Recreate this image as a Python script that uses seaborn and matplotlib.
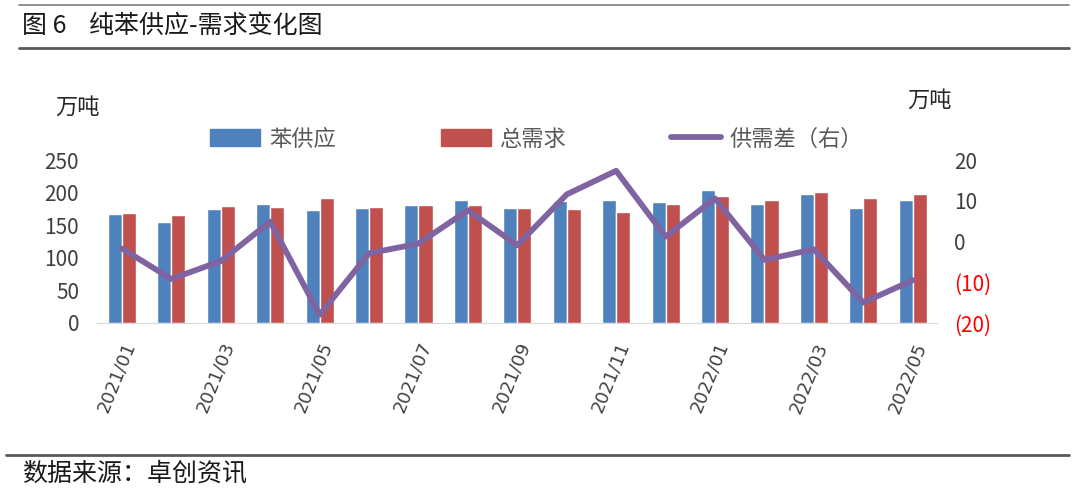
import numpy as np
import pandas as pd
import matplotlib
matplotlib.use('Agg')
import matplotlib.pyplot as plt
import seaborn as sns
from matplotlib.lines import Line2D
from matplotlib.patches import Patch

# ===========================================
# Dados
# ===========================================
meses = ['2021/01', '2021/02', '2021/03', '2021/04', '2021/05', '2021/06',
         '2021/07', '2021/08', '2021/09', '2021/10', '2021/11', '2021/12',
         '2022/01', '2022/02', '2022/03', '2022/04', '2022/05']
oferta = [166.8, 155.5, 174.5, 182.2, 174.0, 176.0, 180.7, 188.4, 176.0,
          187.4, 188.4, 185.3, 204.8, 183.3, 198.7, 177.1, 188.4]
demanda = [168.9, 165.3, 179.7, 177.6, 192.0, 178.6, 181.7, 180.7, 176.6,
           175.6, 171.0, 183.3, 195.0, 188.4, 200.7, 192.5, 198.7]
diferenca = [-1.7, -9.2, -4.8, 4.9, -18.0, -2.9, -0.5, 7.7, -0.9,
             11.6, 17.4, 1.2, 10.6, -4.5, -1.9, -15.0, -9.5]

rotulos_direita = ['20', '10', '0', '(10)', '(20)']
valores_direita = [20, 10, 0, -10, -20]

cor_azul = '#4F81BD'
cor_vermelho = '#C0504D'
cor_roxo = '#8064A2'

df = pd.DataFrame({
    'mes': meses * 2,
    'valor': oferta + demanda,
    'serie': ['苯供应'] * len(meses) + ['总需求'] * len(meses),
})

# ===========================================
# Figura
# ===========================================
sns.set_style('white')
plt.rcParams['font.family'] = ['Noto Sans CJK SC', 'DejaVu Sans']

fig = plt.figure(figsize=(10.8, 4.93), dpi=100)
ax = fig.add_axes([0.09, 0.345, 0.778, 0.33])

sns.barplot(data=df, x='mes', y='valor', hue='serie', order=meses,
            palette=[cor_azul, cor_vermelho], width=0.57, gap=0,
            saturation=1, legend=False, ax=ax)
ax.set_xlim(-0.5, len(meses) - 0.5)
ax.set_ylim(0, 250)
ax.set_yticks([0, 50, 100, 150, 200, 250])
ax.tick_params(axis='y', labelsize=15, labelcolor='#404040', length=0, pad=13)
ax.set_xlabel('')
ax.set_ylabel('')
ax.set_xticks(range(0, len(meses), 2))
ax.set_xticklabels(meses[::2], rotation=68, ha='right', rotation_mode='anchor',
                   fontsize=13, color='#404040', family='DejaVu Sans')
ax.tick_params(axis='x', length=0, pad=12)
for s in ['top', 'right', 'left']:
    ax.spines[s].set_visible(False)
ax.spines['bottom'].set_color('#d9d9d9')

ax2 = ax.twinx()
sns.lineplot(x=np.arange(len(meses)), y=diferenca, color=cor_roxo, lw=4.2,
             ax=ax2)
ax2.set_ylim(-20, 20)
ax2.set_yticks(valores_direita)
ax2.set_yticklabels(rotulos_direita, fontsize=15)
for lbl, v in zip(ax2.get_yticklabels(), valores_direita):
    lbl.set_color('#FF0000' if v < 0 else '#404040')
ax2.tick_params(axis='y', length=0, pad=12)
for s in ['top', 'right', 'left', 'bottom']:
    ax2.spines[s].set_visible(False)

# legenda
handles = [Patch(color=cor_azul), Patch(color=cor_vermelho),
           Line2D([0], [0], color=cor_roxo, lw=4.2)]
fig.legend(handles, ['苯供应', '总需求', '供需差（右）'], loc='center',
           bbox_to_anchor=(0.497, 0.718), ncol=3, frameon=False, fontsize=16,
           columnspacing=4.7, handlelength=2.25, handleheight=0.8,
           handletextpad=0.4, labelcolor='#595959')

# unidades
fig.text(0.051, 0.783, '万吨', fontsize=16, color='#262626', va='center')
fig.text(0.84, 0.797, '万吨', fontsize=16, color='#262626', va='center')

# título e linhas
fig.add_artist(Line2D([0.018, 0.99], [0.99, 0.99], color='#7f7f7f', lw=1.2))
fig.add_artist(Line2D([0.018, 0.99], [0.903, 0.903], color='#595959', lw=2))
fig.text(0.02, 0.947, '图 6    纯苯供应-需求变化图', fontsize=18,
         color='#1a1a1a', va='center')
fig.add_artist(Line2D([0.006, 0.99], [0.077, 0.077], color='#595959', lw=2))
fig.text(0.02, 0.04, '数据来源：卓创资讯', fontsize=18, color='#1a1a1a',
         va='center')

fig.savefig('out.png', dpi=100)
